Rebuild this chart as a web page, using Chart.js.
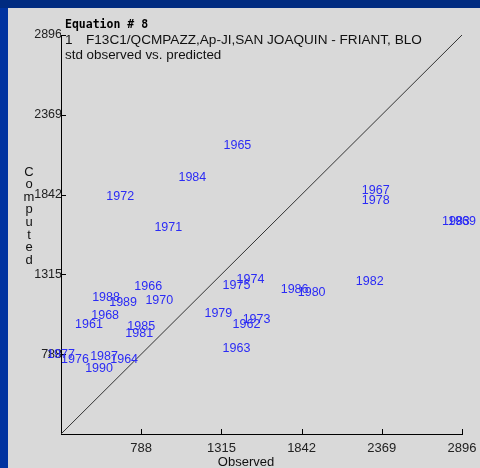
<!DOCTYPE html>
<html>
<head>
<meta charset="utf-8">
<script src="https://cdn.jsdelivr.net/npm/chart.js@4.4.1/dist/chart.umd.min.js"></script>
<style>
  html, body { margin: 0; padding: 0; background: #d9d9d9; }
  #wrap { width: 480px; height: 468px; position: relative; }
</style>
</head>
<body>
<div id="wrap"><canvas id="c" width="480" height="468"></canvas></div>
<script>
const years    = [1961,1962,1963,1964,1965,1966,1967,1968,1969,1970,1971,1972,1973,1974,1975,1976,1977,1978,1979,1980,1981,1982,1983,1984,1985,1986,1987,1988,1989,1990];
const observed = [445,1480,1414,676,1420,834,2329,551,2896,907,966,650,1546,1506,1414,353,261,2329,1295,1908,775,2290,2856,1124,788,1796,544,557,669,511];
const computed = [986,986,828,755,2165,1236,1868,1045,1664,1144,1625,1829,1019,1282,1243,755,788,1802,1058,1196,926,1269,1664,1954,972,1216,775,1163,1131,696];
const tickValues = [788,1315,1842,2369,2896];
const axisMin = 261;
const axisMax = 2896;
const titleLines = ["Equation # 8", "1", "F13C1/QCMPAZZ,Ap-JI,SAN JOAQUIN - FRIANT, BLO", "std observed vs. predicted"];
const xTitle = "Observed";
const yTitle = "Computed";

const points = years.map((y, i) => ({ x: observed[i], y: computed[i] }));

const bgPlugin = {
  id: 'bg',
  beforeDraw(chart) {
    const ctx = chart.ctx;
    ctx.save();
    ctx.fillStyle = '#d9d9d9';
    ctx.fillRect(0, 0, chart.width, chart.height);
    ctx.fillStyle = '#002b80';
    ctx.fillRect(0, 0, chart.width, 8);
    ctx.fillStyle = '#0033a0';
    ctx.fillRect(0, 8, 8, chart.height - 8);
    ctx.restore();
  }
};

const decoPlugin = {
  id: 'deco',
  afterDraw(chart) {
    const ctx = chart.ctx;
    const xs = chart.scales.x, ys = chart.scales.y;
    const a = chart.chartArea;
    ctx.save();
    ctx.strokeStyle = '#000';
    ctx.lineWidth = 1;
    ctx.beginPath();
    tickValues.forEach(v => {
      const px = Math.round(xs.getPixelForValue(v)) + 0.5;
      ctx.moveTo(px, a.bottom); ctx.lineTo(px, a.bottom - 5);
      const py = Math.round(ys.getPixelForValue(v)) + 0.5;
      ctx.moveTo(a.left, py); ctx.lineTo(a.left + 5, py);
    });
    ctx.stroke();
    ctx.fillStyle = '#2b2bf5';
    ctx.font = '12.5px "Liberation Sans", Arial, sans-serif';
    ctx.textAlign = 'center';
    ctx.textBaseline = 'middle';
    const meta = chart.getDatasetMeta(1);
    meta.data.forEach((el, i) => {
      ctx.fillText(String(years[i]), el.x, el.y);
    });
    ctx.fillStyle = '#000';
    ctx.textAlign = 'left';
    ctx.font = 'bold 11.5px "DejaVu Sans Mono", monospace';
    ctx.fillText(titleLines[0], 65, 25);
    ctx.fillStyle = '#111';
    ctx.font = '13.6px "Liberation Sans", Arial, sans-serif';
    ctx.fillText(titleLines[1], 65, 40);
    ctx.fillText(titleLines[2], 86, 40);
    ctx.font = '13.4px "Liberation Sans", Arial, sans-serif';
    ctx.fillText(titleLines[3], 65, 55);
    ctx.textAlign = 'center';
    ctx.font = '13px "Liberation Sans", Arial, sans-serif';
    ctx.fillText(xTitle, 246, 462);
    for (let i = 0; i < yTitle.length; i++) {
      ctx.fillText(yTitle[i], 29, 172 + i * 12.6);
    }
    ctx.restore();
  }
};

new Chart(document.getElementById('c'), {
  type: 'scatter',
  data: {
    datasets: [
      {
        data: [{ x: axisMin, y: axisMin }, { x: axisMax, y: axisMax }],
        showLine: true,
        borderColor: '#333',
        borderWidth: 1,
        pointRadius: 0,
        fill: false
      },
      {
        data: points,
        pointRadius: 0,
        borderWidth: 0,
        backgroundColor: 'transparent'
      }
    ]
  },
  options: {
    responsive: false,
    animation: false,
    events: [],
    layout: { padding: { left: 0, right: 18, top: 35, bottom: 0 } },
    plugins: { legend: { display: false }, tooltip: { enabled: false }, title: { display: false } },
    scales: {
      x: {
        type: 'linear',
        min: axisMin, max: axisMax,
        afterBuildTicks(s) { s.ticks = tickValues.map(v => ({ value: v })); },
        afterFit(s) { s.height = 34; s.paddingRight = 0; s.paddingLeft = 0; },
        grid: { display: false, drawTicks: false },
        border: { display: true, color: '#000', width: 1 },
        ticks: { padding: 7, color: '#222', callback: v => String(v), font: { size: 13, family: '"Liberation Sans", Arial, sans-serif' }, maxRotation: 0, autoSkip: false }
      },
      y: {
        type: 'linear',
        min: axisMin, max: axisMax,
        afterBuildTicks(s) { s.ticks = tickValues.map(v => ({ value: v })); },
        afterFit(s) { s.width = 61; s.paddingTop = 0; s.paddingBottom = 0; },
        grid: { display: false, drawTicks: false },
        border: { display: true, color: '#000', width: 1 },
        ticks: { padding: -1, color: '#222', callback: v => String(v), font: { size: 12.5, family: '"Liberation Sans", Arial, sans-serif' }, autoSkip: false }
      }
    }
  },
  plugins: [bgPlugin, decoPlugin]
});
</script>
</body>
</html>
